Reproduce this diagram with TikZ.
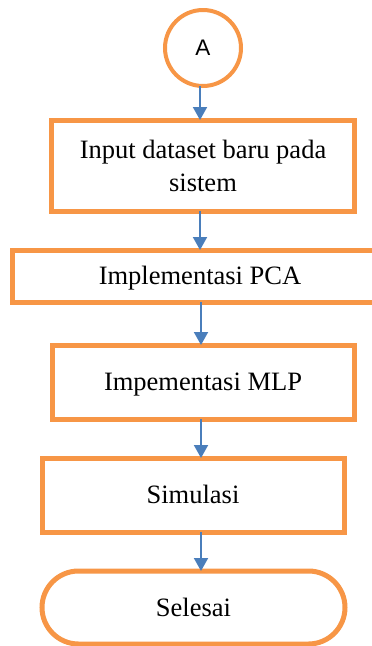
\documentclass[tikz,border=0pt]{standalone}
\usepackage{fontspec}
\setmainfont{Liberation Serif}
\newfontfamily\labelsans{Liberation Sans}
\usetikzlibrary{arrows.meta,shapes.misc}
\definecolor{flowline}{HTML}{F79646}
\definecolor{flowarrow}{HTML}{4A7EBB}
\begin{document}
\begin{tikzpicture}[x=1pt,y=-1pt,
  procbox/.style={draw=flowline, line width=5pt, fill=white, rectangle,
    inner sep=0pt, outer sep=0pt, align=center,
    font=\fontsize{26.5}{33}\selectfont},
  onelinebox/.style={procbox, text height=23.6pt, text depth=5.7pt},
  termbox/.style={onelinebox, rounded rectangle},
  connbox/.style={draw=flowline, line width=4pt, fill=white, circle,
    inner sep=0pt, outer sep=0pt, minimum size=76pt,
    font=\labelsans\fontsize{22.5}{26}\selectfont},
  flow/.style={draw=flowarrow, line width=2pt,
    -{Triangle[width=14pt,length=13pt]}}]
  \useasboundingbox (0,0) rectangle (372,646);
  \clip (0,0) rectangle (372,646);

  \node[connbox] (start) at (203,48) {A};
  \node[procbox, minimum width=303pt, minimum height=91pt] (input) at (203,165.5)
    {Input dataset baru pada\\sistem};
  \node[onelinebox, minimum width=376pt, minimum height=52pt] (pca) at (200,276)
    {Implementasi PCA};
  \node[onelinebox, minimum width=302pt, minimum height=74pt] (mlp) at (203,382)
    {Impementasi MLP};
  \node[onelinebox, minimum width=302pt, minimum height=74pt] (sim) at (193,495)
    {Simulasi};
  \node[termbox, minimum width=303pt, minimum height=73pt] (end) at (193.5,607.5)
    {Selesai};

  \draw[flow] ([xshift=-3pt]start.south) -- ([xshift=-3pt]start.south |- input.north);
  \draw[flow] ([xshift=-3pt]input.south) -- ([xshift=-3pt]input.south |- pca.north);
  \draw[flow] ([xshift=1pt]pca.south) -- ([xshift=1pt]pca.south |- mlp.north);
  \draw[flow] ([xshift=-2pt]mlp.south) -- ([xshift=-2pt]mlp.south |- sim.north);
  \draw[flow] ([xshift=8pt]sim.south) -- ([xshift=8pt]sim.south |- end.north);
\end{tikzpicture}
\end{document}
